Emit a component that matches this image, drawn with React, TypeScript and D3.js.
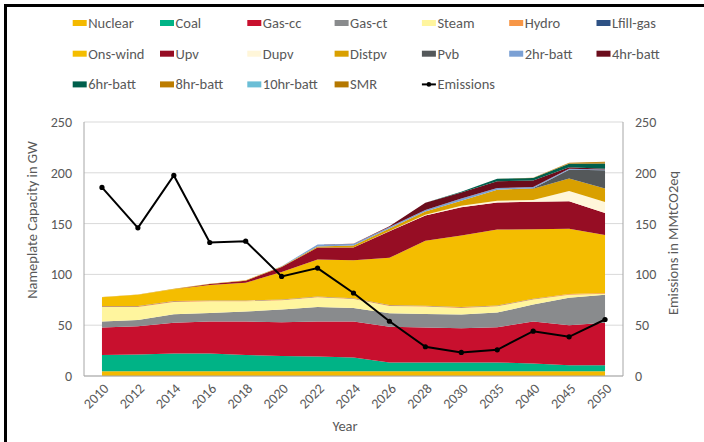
import React from "react";
import * as d3 from "d3";

const years = ["2010","2012","2014","2016","2018","2020","2022","2024","2026","2028","2030","2035","2040","2045","2050"];

const nuclear = [4.7,4.7,4.7,4.7,4.7,4.7,4.7,4.7,4.7,4.7,4.7,4.7,4.7,4.7,4.7];
const coal = [15.9,16.5,17.5,17.5,15.9,14.9,14.6,13.6,8.7,8.7,8.7,8.7,7.7,5.8,5.8];
const gasCc = [27.1,27.8,30.1,31.4,33.0,33.4,34.3,35.3,35.0,34.3,33.6,34.6,41.2,39.5,41.8];
const gasCt = [5.9,6.0,8.5,8.4,9.8,12.4,14.4,13.4,13.4,13.4,13.5,14.4,16.7,27.1,27.7];
const steam = [14.4,13.0,12.1,11.5,10.1,9.1,9.5,8.8,7.2,7.2,6.5,6.2,4.9,2.9,1.0];
const hydro = [0.6,0.6,0.6,0.6,0.6,0.6,0.6,0.6,0.6,0.6,0.6,0.6,0.6,0.6,0.6];
const lfillGas = [0.2,0.2,0.2,0.2,0.2,0.2,0.2,0.2,0.2,0.2,0.2,0.2,0.2,0.2,0.2];
const onsWind = [8.7,11.2,11.6,15.2,17.5,27.0,36.4,37.4,46.5,63.9,70.4,74.8,68.4,64.2,57.1];
const upv = [0,0,0.2,1.0,2.0,4.9,11.8,12.5,26.2,25.0,27.8,26.6,27.2,27.0,21.5];
const dupv = [0,0,0,0,0,0,0,0,0.3,0.6,1.6,1.8,1.6,10.0,10.8];
const distpv = [0.2,0.2,0.3,0.4,0.5,0.6,1.0,1.9,2.3,3.2,4.9,10.8,11.2,12.3,13.3];
const pvb = [0,0,0,0,0,0,0,0,0,0,0,0,0.3,8.8,18.0];
const batt2 = [0,0,0,0,0,0.3,1.9,1.6,1.6,1.7,2.3,1.6,1.3,0.8,0.7];
const batt4 = [0,0,0,0,0,0,0,0.2,0.8,6.9,5.9,6.6,6.5,1.5,0.7];
const batt6 = [0,0,0,0,0,0,0,0,0,0,0.7,2.6,2.4,3.5,5.2];
const batt8 = [0,0,0,0,0,0,0,0,0,0,0,0,0.2,0.5,0.8];
const batt10 = [0,0,0,0,0,0,0,0,0,0,0,0,0,0.1,0.1];
const smr = [0,0,0,0,0,0,0,0,0,0,0,0,0,0.4,0.9];

const emissions = [185.6,145.8,197.4,131.4,132.7,98.0,106.2,81.7,53.9,28.8,23.2,25.8,44.1,38.6,55.6];

const seriesNames = ["Nuclear","Coal","Gas-cc","Gas-ct","Steam","Hydro","Lfill-gas","Ons-wind","Upv","Dupv","Distpv","Pvb","2hr-batt","4hr-batt","6hr-batt","8hr-batt","10hr-batt","SMR"];
const seriesValues = [nuclear,coal,gasCc,gasCt,steam,hydro,lfillGas,onsWind,upv,dupv,distpv,pvb,batt2,batt4,batt6,batt8,batt10,smr];
const seriesColors = ["#F4B900","#00B386","#C8102E","#898B8D","#FFF59E","#F79646","#2E5184","#F4BD00","#960D24","#FFF6D9","#D9A000","#54585A","#7BA0D4","#6B0D1C","#005F4C","#BC7C00","#6BBED6","#B57800"];

const yTicks = [0,50,100,150,200,250];

const W = 704, H = 442;
const M = { left: 84, right: 623, top: 122, bottom: 376 };
const FONT = "Carlito, 'Liberation Sans Narrow', 'Open Sans', sans-serif";
const TXT = "#595959";

export default function App() {
  const x = d3.scalePoint<string>().domain(years).range([M.left, M.right]).padding(0.5);
  const y = d3.scaleLinear().domain([0, 250]).range([M.bottom, M.top]);
  const y2 = d3.scaleLinear().domain([0, 250]).range([M.bottom, M.top]);

  const table = years.map((yr, i) => {
    const row: any = { year: yr };
    seriesNames.forEach((n, k) => (row[n] = seriesValues[k][i]));
    return row;
  });
  const stack = d3.stack().keys(seriesNames)(table as any);
  const area = d3
    .area<any>()
    .x((d) => x(d.data.year) as number)
    .y0((d) => y(d[0]))
    .y1((d) => y(d[1]));
  const line = d3
    .line<number>()
    .x((_, i) => x(years[i]) as number)
    .y((d) => y2(d));

  const legendItems = [...seriesNames.map((n, k) => ({ name: n, color: seriesColors[k], line: false })), { name: "Emissions", color: "#000", line: true }];
  const colX = (c: number) => 72.7 + c * 87.3;
  const rowY = (r: number) => 23 + r * 30.7;

  return (
    <svg width={W} height={H} style={{ position: "absolute", left: 0, top: 0, background: "#fff" }} fontFamily={FONT}>
      <rect x={0} y={0} width={W} height={H} fill="#fff" />
      {/* gridlines */}
      {yTicks.map((t) => (
        <line key={"g" + t} x1={M.left} x2={M.right} y1={y(t)} y2={y(t)} stroke="#D9D9D9" strokeWidth={1} />
      ))}
      {/* areas */}
      {stack.map((s, k) => (
        <path key={s.key} d={area(s as any) || ""} fill={seriesColors[k]} />
      ))}
      {/* axes */}
      <line x1={M.left} x2={M.left} y1={M.top} y2={M.bottom} stroke="#A6A6A6" />
      <line x1={M.right} x2={M.right} y1={M.top} y2={M.bottom} stroke="#A6A6A6" />
      <line x1={M.left} x2={M.right} y1={M.bottom} y2={M.bottom} stroke="#A6A6A6" />
      {/* emissions */}
      <path d={line(emissions) || ""} fill="none" stroke="#000" strokeWidth={2} />
      {emissions.map((v, i) => (
        <circle key={"e" + i} cx={x(years[i]) as number} cy={y2(v)} r={2.6} fill="#000" />
      ))}
      {/* left tick labels */}
      {yTicks.map((t) => (
        <text key={"l" + t} x={M.left - 12} y={y(t)} dy="0.35em" textAnchor="end" fontSize={14} fill={TXT}>{t}</text>
      ))}
      {yTicks.map((t) => (
        <text key={"r" + t} x={M.right + 12} y={y2(t)} dy="0.35em" textAnchor="start" fontSize={14} fill={TXT}>{t}</text>
      ))}
      {/* x labels */}
      {years.map((yr) => (
        <text key={"x" + yr} transform={`translate(${(x(yr) as number) + 4},${M.bottom + 10}) rotate(-45)`} textAnchor="end" dy="0.35em" fontSize={14} fill={TXT}>{yr}</text>
      ))}
      <text x={345} y={431} textAnchor="middle" fontSize={14.5} fill={TXT}>Year</text>
      <text transform={`translate(32,220) rotate(-90)`} textAnchor="middle" dy="0.35em" fontSize={14.5} fill={TXT}>Nameplate Capacity in GW</text>
      <text transform={`translate(673,243) rotate(-90)`} textAnchor="middle" dy="0.35em" fontSize={14.5} fill={TXT}>Emissions in MMtCO2eq</text>
      {/* legend */}
      {legendItems.map((it, i) => {
        const c = i % 7, r = Math.floor(i / 7);
        const lx = colX(c), ly = rowY(r);
        return (
          <g key={"lg" + it.name}>
            {it.line ? (
              <g>
                <line x1={lx} x2={lx + 14} y1={ly} y2={ly} stroke="#000" strokeWidth={2} />
                <circle cx={lx + 7} cy={ly} r={2.3} fill="#000" />
              </g>
            ) : (
              <rect x={lx} y={ly - 3} width={14} height={6} fill={it.color} />
            )}
            <text x={lx + 15.5} y={ly} dy="0.35em" fontSize={14.5} fill={TXT}>{it.name}</text>
          </g>
        );
      })}
      {/* frame */}
      <path d={`M5.5,${H} L5.5,5.5 L${W},5.5`} fill="none" stroke="#000" strokeWidth={3} />
    </svg>
  );
}
